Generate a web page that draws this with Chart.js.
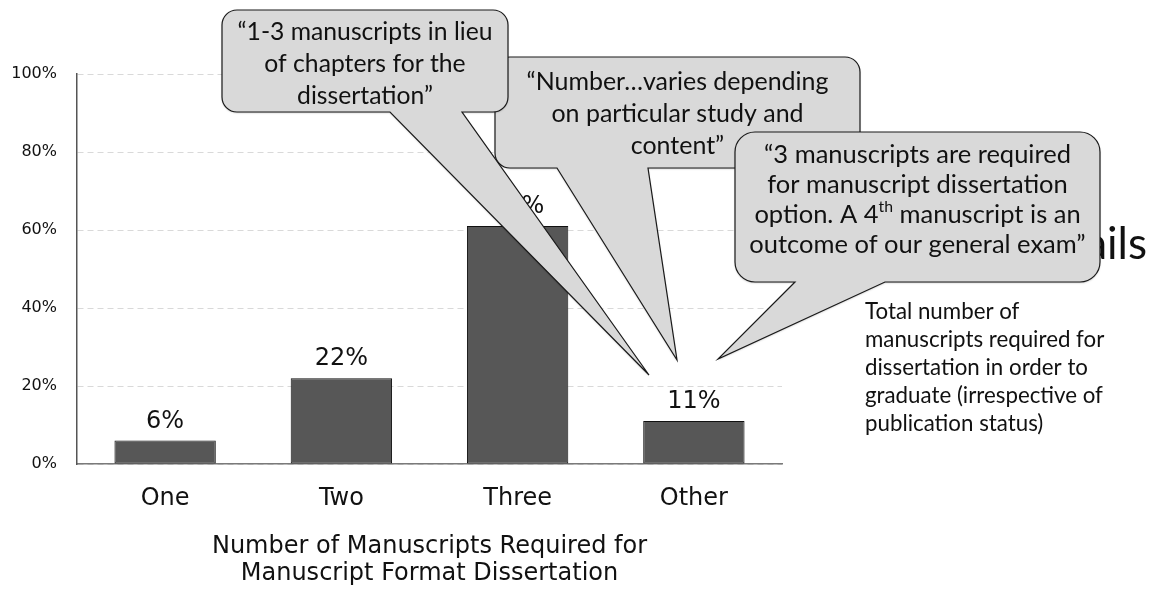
<!DOCTYPE html>
<html>
<head>
<meta charset="utf-8">
<script src="https://cdn.jsdelivr.net/npm/chart.js@4.4.1/dist/chart.umd.min.js"></script>
<style>
  html, body { margin: 0; padding: 0; background: #fff; }
  canvas { display: block; }
</style>
</head>
<body>
<canvas id="chart" width="1151" height="591"></canvas>
<script>
// data
const categories = ['One', 'Two', 'Three', 'Other'];
const percents = [6, 22, 61, 11];
const yMax = 100;
const yStep = 20;
const axisTitle = ['Number of Manuscripts Required for', 'Manuscript Format Dissertation'];

// quotes in the speech bubbles + side note
const quote1 = ['“1-3 manuscripts in lieu', 'of chapters for the', 'dissertation”'];
const quote2 = ['“Number…varies depending', 'on particular study and', 'content”'];
const quote3 = ['“3 manuscripts are required', 'for manuscript dissertation', ['option. A 4', 'th', ' manuscript is an'], 'outcome of our general exam”'];
const sideNote = ['Total number of', 'manuscripts required for', 'dissertation in order to', 'graduate (irrespective of', 'publication status)'];
const hiddenHeading = 'Details';

const AXIS_FONT = '"DejaVu Sans", sans-serif';
const NOTE_FONT = 'Lato, sans-serif';

function fitSize(ctx, text, width, family) {
    ctx.font = '100px ' + family;
    return 100 * width / ctx.measureText(text).width;
}

function bubble(ctx, b) {
    const { x1, y1, x2, y2, r, tail } = b;
    ctx.save();
    ctx.beginPath();
    ctx.moveTo(x1 + r, y1);
    ctx.lineTo(x2 - r, y1);
    ctx.arcTo(x2, y1, x2, y1 + r, r);
    ctx.lineTo(x2, y2 - r);
    ctx.arcTo(x2, y2, x2 - r, y2, r);
    ctx.lineTo(tail[1], y2);
    ctx.lineTo(tail[2], tail[3]);
    ctx.lineTo(tail[0], y2);
    ctx.lineTo(x1 + r, y2);
    ctx.arcTo(x1, y2, x1, y2 - r, r);
    ctx.lineTo(x1, y1 + r);
    ctx.arcTo(x1, y1, x1 + r, y1, r);
    ctx.closePath();
    ctx.shadowColor = 'rgba(0,0,0,0.25)';
    ctx.shadowBlur = 2;
    ctx.shadowOffsetY = 1;
    ctx.fillStyle = '#d9d9d9';
    ctx.fill();
    ctx.shadowColor = 'transparent';
    ctx.strokeStyle = '#1a1a1a';
    ctx.lineWidth = 1.2;
    ctx.stroke();

    // text
    const size = fitSize(ctx, b.ref, b.refWidth, NOTE_FONT);
    const cx = (x1 + x2) / 2;
    ctx.fillStyle = '#111';
    ctx.textBaseline = 'middle';
    b.lines.forEach((line, i) => {
        const y = b.firstY + i * b.lineH;
        if (Array.isArray(line)) {
            // line with a superscript in the middle
            const big = size + 'px ' + NOTE_FONT;
            const small = (size * 0.62) + 'px ' + NOTE_FONT;
            ctx.font = big; const w0 = ctx.measureText(line[0]).width;
            ctx.font = small; const w1 = ctx.measureText(line[1]).width;
            ctx.font = big; const w2 = ctx.measureText(line[2]).width;
            let x = cx - (w0 + w1 + w2) / 2;
            ctx.textAlign = 'left';
            ctx.font = big; ctx.fillText(line[0], x, y); x += w0;
            ctx.font = small; ctx.fillText(line[1], x, y - size * 0.32); x += w1;
            ctx.font = big; ctx.fillText(line[2], x, y);
        } else {
            ctx.font = size + 'px ' + NOTE_FONT;
            ctx.textAlign = 'center';
            ctx.fillText(line, cx, y);
        }
    });
    ctx.restore();
}

const valueLabels = {
    id: 'valueLabels',
    afterDatasetsDraw(chart) {
        const ctx = chart.ctx;
        const meta = chart.getDatasetMeta(0);
        ctx.save();
        ctx.font = '24px ' + AXIS_FONT;
        ctx.fillStyle = '#111';
        ctx.textAlign = 'center';
        ctx.textBaseline = 'middle';
        meta.data.forEach((bar, i) => {
            ctx.fillText(percents[i] + '%', bar.x, bar.y - 19);
        });
        ctx.restore();
    }
};

const overlays = {
    id: 'overlays',
    afterDraw(chart) {
        const ctx = chart.ctx;
        // heading mostly hidden behind the third bubble
        ctx.save();
        ctx.font = '44px ' + NOTE_FONT;
        ctx.fillStyle = '#111';
        ctx.textAlign = 'right';
        ctx.textBaseline = 'alphabetic';
        ctx.fillText(hiddenHeading, 1147, 259);
        ctx.restore();

        bubble(ctx, { x1: 495, y1: 57, x2: 860, y2: 168, r: 15, tail: [557, 648, 677, 360],
            lines: quote2, ref: quote2[0], refWidth: 302, firstY: 82, lineH: 32 });
        bubble(ctx, { x1: 222, y1: 10, x2: 508, y2: 112, r: 15, tail: [390, 462, 649, 375],
            lines: quote1, ref: quote1[0], refWidth: 255, firstY: 32, lineH: 32 });
        bubble(ctx, { x1: 735, y1: 132, x2: 1100, y2: 282, r: 20, tail: [795, 885, 718, 359],
            lines: quote3, ref: quote3[0], refWidth: 307, firstY: 155, lineH: 30 });

        // side note
        ctx.save();
        const size = fitSize(ctx, sideNote[3], 238, NOTE_FONT);
        ctx.font = size + 'px ' + NOTE_FONT;
        ctx.fillStyle = '#111';
        ctx.textAlign = 'left';
        ctx.textBaseline = 'middle';
        sideNote.forEach((line, i) => ctx.fillText(line, 865, 312 + i * 28));
        ctx.restore();
    }
};

new Chart(document.getElementById('chart'), {
    type: 'bar',
    data: {
        labels: categories,
        datasets: [{
            data: percents,
            backgroundColor: '#575757',
            borderColor: '#111',
            borderWidth: 1,
            borderSkipped: false,
            barPercentage: 0.575,
            categoryPercentage: 1
        }]
    },
    options: {
        responsive: false,
        animation: false,
        layout: { padding: { top: 74, right: 369, bottom: 0, left: 0 } },
        plugins: {
            legend: { display: false },
            tooltip: { enabled: false }
        },
        scales: {
            x: {
                grid: { display: false, drawTicks: false },
                border: { color: '#7a7a7a', width: 1.5 },
                ticks: { color: '#111', font: { family: AXIS_FONT, size: 24 }, padding: 20 },
                title: {
                    display: true,
                    text: axisTitle,
                    color: '#111',
                    font: { family: AXIS_FONT, size: 24, lineHeight: 1.15 },
                    padding: { top: 0, bottom: 3 }
                },
                afterFit(scale) { scale.height = 127; }
            },
            y: {
                min: 0,
                max: yMax,
                ticks: {
                    stepSize: yStep,
                    color: '#111',
                    font: { family: AXIS_FONT, size: 16 },
                    padding: 20,
                    callback: v => v + '%'
                },
                grid: { color: '#d9d9d9', drawTicks: false, lineWidth: 1 },
                border: { color: '#555', width: 1.5, dash: [6, 4] },
                afterFit(scale) { scale.width = 77; }
            }
        }
    },
    plugins: [valueLabels, overlays]
});
</script>
</body>
</html>
